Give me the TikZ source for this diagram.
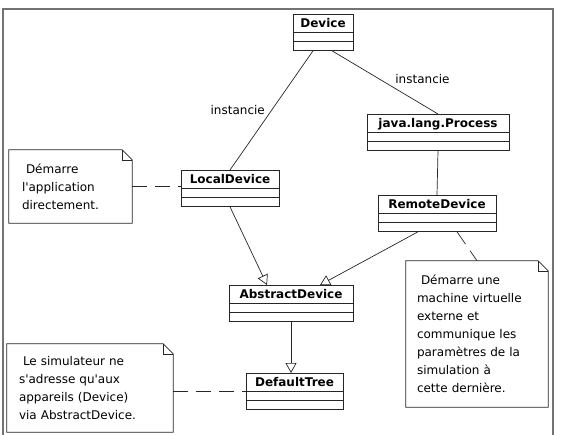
\documentclass[tikz,border=0pt]{standalone}
\usepackage{fontspec}
\setmainfont{DejaVu Sans}
\usetikzlibrary{arrows.meta, positioning}

\begin{document}
\begin{tikzpicture}[x=1pt, y=-1pt, >={Triangle[open, length=10pt, width=11pt]}]

\tikzset{
    umlclass/.style={
        draw=black!85, line width=0.8pt, anchor=north, inner sep=0pt,
        font=\fontsize{12}{14}\selectfont\bfseries,
        minimum width=#1, text height=13.5pt, text depth=22.5pt,
        path picture={
            \draw[black!85, line width=0.7pt]
                ([yshift=-18pt]path picture bounding box.north west) -- ([yshift=-18pt]path picture bounding box.north east)
                ([yshift=-27pt]path picture bounding box.north west) -- ([yshift=-27pt]path picture bounding box.north east);
        }
    },
    note/.style={
        align=left, inner sep=0pt,
        font=\fontsize{12}{18}\selectfont
    },
    link/.style={
        draw=black!85, line width=0.7pt
    },
    anchorlink/.style={
        draw=black!85, line width=0.7pt, dash pattern=on 15pt off 8pt
    },
    lbl/.style={
        font=\fontsize{12}{14}\selectfont
    }
}

% Page and frame
\useasboundingbox (0,0) rectangle (569,435);
\fill[white] (0,0) rectangle (569,435);
\draw[black!55, line width=1.2pt] (3,445) -- (3,9) -- (553,9) -- (553,445);

% --- CLASSES ---
\node[umlclass=60pt] (device) at (323,14) {Device};
\node[umlclass=142pt] (process) at (438,114) {java.lang.Process};
\node[umlclass=98pt] (local) at (230,170) {LocalDevice};
\node[umlclass=118pt] (remote) at (437,195) {RemoteDevice};
\node[umlclass=124pt] (abstract) at (291,285) {AbstractDevice};
\node[umlclass=97pt] (tree) at (294.5,373) {DefaultTree};

% --- NOTES ---
\node[note, text width=97pt, minimum width=123pt, minimum height=73pt] (notelocal) at (70.5,186.5)
    {\ Démarre\\l\textquotesingle application\\directement.};
\node[note, text width=120pt, minimum width=142pt, minimum height=146pt] (noteremote) at (477,334)
    {\ Démarre une\\machine virtuelle\\externe et\\communique les\\paramètres de la\\simulation à\\cette dernière.};
\node[note, text width=142pt, minimum width=166pt, minimum height=88pt] (notesim) at (90,388)
    {\ Le simulateur ne\\s\textquotesingle adresse qu\textquotesingle aux\\appareils (Device)\\via AbstractDevice.};

% dog-eared outlines
\foreach \n in {notelocal, noteremote, notesim} {
    \draw[black!85, line width=0.7pt] (\n.north west) -- ([xshift=-10pt]\n.north east) -- ([yshift=-10pt]\n.north east)
        -- (\n.south east) -- (\n.south west) -- cycle;
    \draw[black!85, line width=0.5pt] ([xshift=-10pt]\n.north east) |- ([yshift=-10pt]\n.north east);
}

% --- ASSOCIATIONS ---
\draw[link] ([xshift=-10pt]device.south) -- (local.north) node[lbl, pos=0.5, left=3pt] {instancie};
\draw[link] ([xshift=9pt]device.south) -- (process.north) node[lbl, pos=0.45, right=12pt] {instancie};
\draw[link] (process.south) -- (remote.north);

% --- GENERALISATIONS ---
\draw[link, ->] (local.south) -- ([xshift=-24pt]abstract.north);
\draw[link, ->] ([xshift=-19pt]remote.south) -- ([xshift=29pt]abstract.north);
\draw[link, ->] (abstract.south) -- (abstract.south |- tree.north);

% --- NOTE ANCHORS ---
\draw[anchorlink] (notelocal.east) -- (notelocal.east -| local.west);
\draw[anchorlink] ([xshift=20pt]remote.south) -- (noteremote.north);
\draw[anchorlink] (tree.west -| notesim.east) -- (tree.west);

\end{tikzpicture}
\end{document}
